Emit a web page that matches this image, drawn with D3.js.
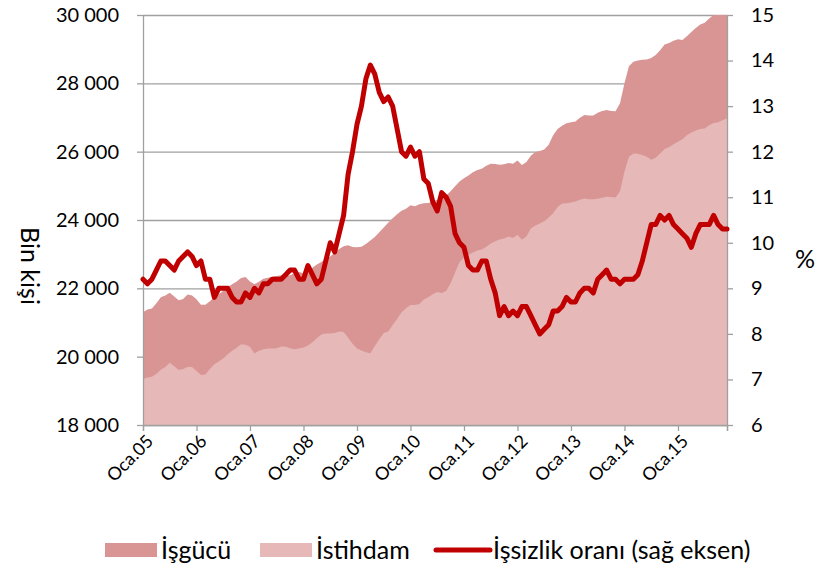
<!DOCTYPE html>
<html>
<head>
<meta charset="utf-8">
<title></title>
<style>
  body { margin: 0; background: #fff; font-family: "Lato", sans-serif; }
  .axis path, .axis line { stroke: #a0a0a0; stroke-width: 1.3; }
  .axis text { font-family: "Lato", sans-serif; font-size: 20px; fill: #000; }
  .grid line { stroke: #a0a0a0; stroke-width: 1.3; }
  .grid path { display: none; }
  .xlab { font-family: "Lato", sans-serif; font-size: 18px; fill: #000; }
  .legend text { font-family: "Lato", sans-serif; font-size: 25px; fill: #000; }
</style>
<script src="https://d3js.org/d3.v7.min.js"></script>
</head>
<body>
<script>
// months Jan 2005 .. Dec 2015
const months = d3.timeMonths(new Date(2005, 0, 1), new Date(2016, 0, 1)).map(d3.timeFormat("%Y-%m"));
const tickLabels = ["Oca.05", "Oca.06", "Oca.07", "Oca.08", "Oca.09", "Oca.10", "Oca.11", "Oca.12", "Oca.13", "Oca.14", "Oca.15"];
const leftTicks = [18000, 20000, 22000, 24000, 26000, 28000, 30000];
const rightTicks = [6, 7, 8, 9, 10, 11, 12, 13, 14, 15];
const seriesNames = ["İşgücü", "İstihdam", "İşsizlik oranı (sağ eksen)"];

// İşgücü (bin kişi)
const isgucu = [
  21300, 21380, 21410, 21560, 21740, 21790, 21870, 21760, 21650, 21690, 21820, 21790,
  21680, 21520, 21520, 21620, 21740, 21830, 21930, 22040, 22120, 22200, 22300, 22330,
  22200, 22120, 22190, 22280, 22310, 22340, 22360, 22380, 22370, 22380, 22450, 22480,
  22440, 22420, 22600, 22700, 22770, 22850, 22930, 23050, 23150, 23230, 23260, 23210,
  23200, 23220, 23300, 23400, 23500, 23640, 23780, 23920, 24050, 24170, 24270, 24330,
  24430, 24400, 24460, 24490, 24500, 24540, 24590, 24630, 24720, 24840, 24990, 25130,
  25220, 25300, 25400, 25460, 25500, 25590, 25650, 25640, 25620, 25630, 25670, 25650,
  25740, 25610, 25700, 25880, 25990, 26020, 26060, 26200, 26480, 26660, 26760, 26830,
  26860, 26880, 26990, 27070, 27060, 27060, 27140, 27190, 27220, 27190, 27180, 27420,
  28000, 28500, 28630, 28670, 28690, 28700, 28740, 28830, 28970, 29140, 29180, 29250,
  29290, 29270, 29380, 29500, 29620, 29720, 29770, 29900, 30000, 30080, 30120, 30180
];

// İstihdam (bin kişi)
const istihdam = [
  19350, 19390, 19410, 19500, 19620, 19700, 19820, 19720, 19610, 19640, 19700, 19700,
  19580, 19460, 19480, 19640, 19780, 19860, 19950, 20070, 20170, 20260, 20360, 20350,
  20290, 20090, 20170, 20220, 20240, 20240, 20250, 20300, 20290, 20250, 20220, 20240,
  20270, 20330, 20420, 20540, 20650, 20680, 20680, 20690, 20740, 20720, 20560, 20380,
  20240, 20180, 20130, 20100, 20310, 20510, 20690, 20740, 20930, 21100, 21300, 21420,
  21510, 21510, 21540, 21670, 21740, 21830, 21890, 21860, 21920, 22150, 22460, 22760,
  22900, 22980, 23050, 23110, 23140, 23220, 23310, 23380, 23430, 23460, 23520, 23470,
  23570, 23420, 23520, 23750, 23840, 23900, 23960, 24070, 24200, 24380, 24480, 24490,
  24510, 24540, 24590, 24630, 24610, 24610, 24620, 24650, 24680, 24670, 24660, 24840,
  25420, 25850, 25950, 25940, 25900, 25850, 25760, 25820, 25950, 26080, 26130, 26220,
  26290, 26360, 26480, 26560, 26620, 26660, 26680, 26770, 26840, 26860, 26920, 26980
];

// İşsizlik oranı (%)
const issizlik = [
  9.2, 9.1, 9.2, 9.4, 9.6, 9.6, 9.5, 9.4, 9.6, 9.7, 9.8, 9.7,
  9.5, 9.6, 9.2, 9.2, 8.8, 9.0, 9.0, 9.0, 8.8, 8.7, 8.7, 8.9,
  8.8, 9.0, 8.9, 9.1, 9.1, 9.2, 9.2, 9.2, 9.3, 9.4, 9.4, 9.2,
  9.2, 9.5, 9.3, 9.1, 9.2, 9.6, 10.0, 9.8, 10.2, 10.6, 11.5, 12.0,
  12.6, 13.0, 13.6, 13.9, 13.7, 13.3, 13.1, 13.2, 13.0, 12.5, 12.0, 11.9,
  12.1, 11.9, 12.0, 11.4, 11.3, 10.9, 10.7, 11.1, 11.0, 10.8, 10.2, 10.0,
  9.9, 9.5, 9.4, 9.4, 9.6, 9.6, 9.2, 8.9, 8.4, 8.6, 8.4, 8.5,
  8.4, 8.6, 8.6, 8.4, 8.2, 8.0, 8.1, 8.2, 8.5, 8.5, 8.6, 8.8,
  8.7, 8.7, 8.9, 9.0, 9.0, 8.9, 9.2, 9.3, 9.4, 9.2, 9.2, 9.1,
  9.2, 9.2, 9.2, 9.3, 9.6, 10.0, 10.4, 10.4, 10.6, 10.5, 10.6, 10.4,
  10.3, 10.2, 10.1, 9.9, 10.2, 10.4, 10.4, 10.4, 10.6, 10.4, 10.3, 10.3
];

const colors = ["#d99594", "#e6b8b7", "#c00000"];

const W = 825, H = 567;
const margin = { left: 143, right: 98, top: 15, bottom: 142 };
const width = W - margin.left - margin.right;
const height = H - margin.top - margin.bottom;

const svg = d3.select("body").append("svg")
  .attr("width", W)
  .attr("height", H);

const g = svg.append("g")
  .attr("transform", "translate(" + margin.left + "," + margin.top + ")");

const x = d3.scalePoint().domain(months).range([0, width]);
const yL = d3.scaleLinear().domain([18000, 30000]).range([height, 0]);
const yR = d3.scaleLinear().domain([6, 15]).range([height, 0]);

const fmt = d3.formatLocale({ decimal: ",", thousands: " ", grouping: [3], currency: ["", ""] }).format(",");

svg.append("defs").append("clipPath").attr("id", "plot")
  .append("rect").attr("width", width).attr("height", height);

// gridlines
g.append("g")
  .attr("class", "grid")
  .call(d3.axisLeft(yL).tickValues(leftTicks).tickSize(-width).tickFormat(""));

// areas
const rows = months.map((m, i) => ({ m: m, a: isgucu[i], b: istihdam[i], r: issizlik[i] }));

const areaA = d3.area().x(d => x(d.m)).y0(height).y1(d => yL(d.a));
const areaB = d3.area().x(d => x(d.m)).y0(height).y1(d => yL(d.b));

const plot = g.append("g").attr("clip-path", "url(#plot)");
plot.append("path").attr("d", areaA(rows)).attr("fill", colors[0]);
plot.append("path").attr("d", areaB(rows)).attr("fill", colors[1]);

// x axis: ticks every 12 months plus the end
const xTicks = months.filter((m, i) => i % 12 === 0).concat([months[months.length - 1]]);
g.append("g")
  .attr("class", "axis")
  .attr("transform", "translate(0," + height + ")")
  .call(d3.axisBottom(x).tickValues(xTicks).tickSizeOuter(0).tickSize(6).tickFormat(""));

// rotated x labels
g.append("g").selectAll("text")
  .data(tickLabels)
  .join("text")
  .attr("class", "xlab")
  .attr("text-anchor", "end")
  .attr("dy", "0.35em")
  .attr("transform", (d, i) => "translate(" + (x(months[i * 12]) + 7) + "," + (height + 13) + ") rotate(-45)")
  .text(d => d);

g.append("g")
  .attr("class", "axis")
  .call(d3.axisLeft(yL).tickValues(leftTicks).tickSize(6).tickSizeOuter(0).tickPadding(18).tickFormat(fmt));

g.append("g")
  .attr("class", "axis")
  .attr("transform", "translate(" + width + ",0)")
  .call(d3.axisRight(yR).tickValues(rightTicks).tickSize(6).tickSizeOuter(0).tickPadding(18));

// unemployment line
const line = d3.line().x(d => x(d.m)).y(d => yR(d.r));
g.append("path")
  .attr("d", line(rows))
  .attr("fill", "none")
  .attr("stroke", colors[2])
  .attr("stroke-width", 5)
  .attr("stroke-linejoin", "round")
  .attr("stroke-linecap", "round");

// axis titles
svg.append("text")
  .attr("transform", "translate(21,266) rotate(90)")
  .attr("text-anchor", "middle")
  .attr("font-size", 25)
  .text("Bin kişi");

svg.append("text")
  .attr("x", 805)
  .attr("y", 268)
  .attr("text-anchor", "middle")
  .attr("font-size", 25)
  .text("%");

// legend
const legend = svg.append("g").attr("class", "legend").attr("transform", "translate(0,550)");
const legX = [105, 260, 436];
seriesNames.forEach((name, i) => {
  const item = legend.append("g").attr("transform", "translate(" + legX[i] + ",0)");
  if (i < 2) {
    item.append("rect").attr("x", 0).attr("y", -7).attr("width", 52).attr("height", 14).attr("fill", colors[i]);
  } else {
    item.append("line").attr("x1", 0).attr("x2", 54).attr("y1", 0).attr("y2", 0)
      .attr("stroke", colors[2]).attr("stroke-width", 5).attr("stroke-linecap", "round");
  }
  item.append("text").attr("x", i < 2 ? 56 : 57).attr("y", 0).attr("dy", "0.35em").text(name);
});
</script>
</body>
</html>
